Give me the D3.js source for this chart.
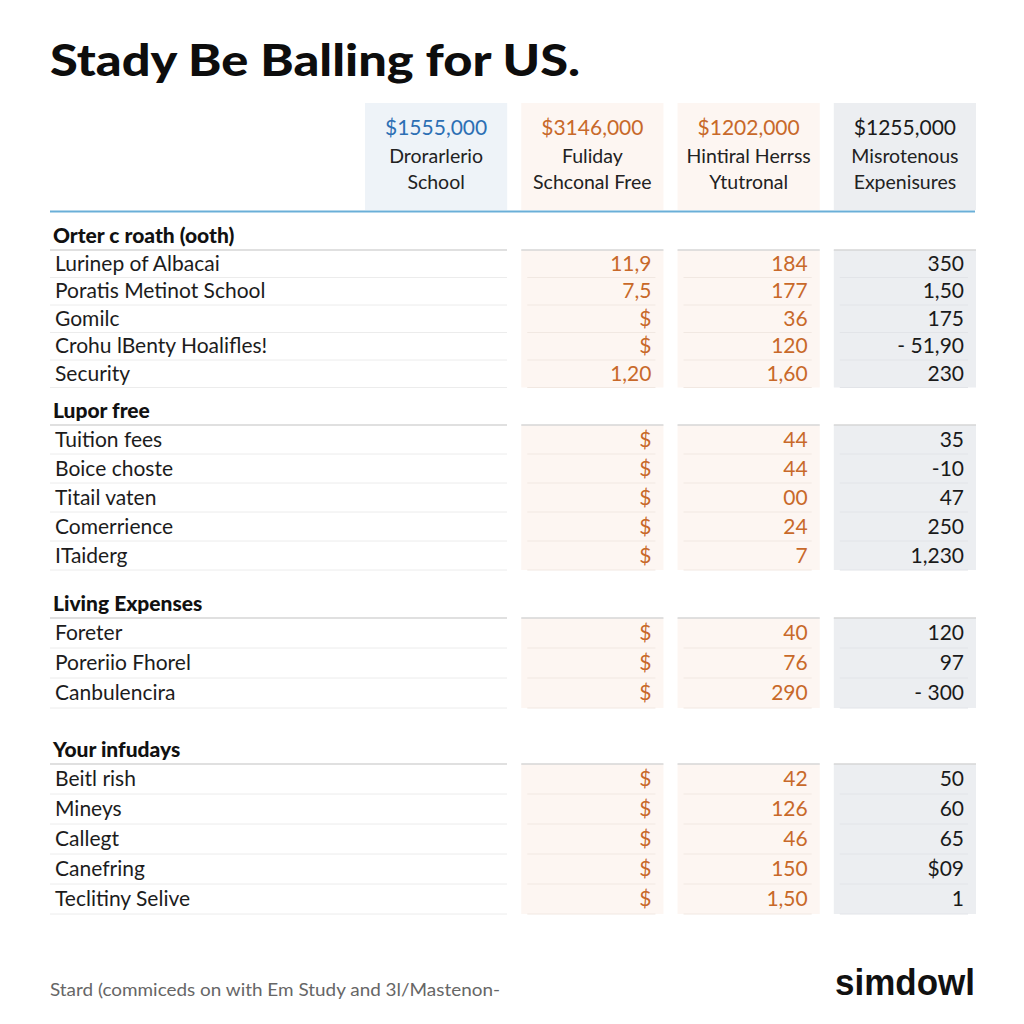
<!DOCTYPE html>
<html><head><meta charset="utf-8">
<script src="https://cdn.jsdelivr.net/npm/d3@7"></script>
<style>
html,body{margin:0;padding:0;background:#fff;}
svg{display:block;}
</style></head>
<body>
<svg id="chart" width="1024" height="1024"></svg>
<script>
// ---------- DATA ----------
const title = "Stady Be Balling for US.";
const columnAmounts = ["$1555,000", "$3146,000", "$1202,000", "$1255,000"];
const columnNames = [["Drorarlerio", "School"], ["Fuliday", "Schconal Free"], ["Hintiral Herrss", "Ytutronal"], ["Misrotenous", "Expenisures"]];
const sectionTitles = ["Orter c roath (ooth)", "Lupor free", "Living Expenses", "Your infudays"];
const rowLabels = [
  ["Lurinep of Albacai", "Poratis Metinot School", "Gomilc", "Crohu lBenty Hoalifles!", "Security"],
  ["Tuition fees", "Boice choste", "Titail vaten", "Comerrience", "ITaiderg"],
  ["Foreter", "Poreriio Fhorel", "Canbulencira"],
  ["Beitl rish", "Mineys", "Callegt", "Canefring", "Teclitiny Selive"]
];
const fulidayValues = [
  ["11,9", "7,5", "$", "$", "1,20"],
  ["$", "$", "$", "$", "$"],
  ["$", "$", "$"],
  ["$", "$", "$", "$", "$"]
];
const hintiralValues = [
  ["184", "177", "36", "120", "1,60"],
  ["44", "44", "00", "24", "7"],
  ["40", "76", "290"],
  ["42", "126", "46", "150", "1,50"]
];
const misroValues = [
  ["350", "1,50", "175", "- 51,90", "230"],
  ["35", "-10", "47", "250", "1,230"],
  ["120", "97", "- 300"],
  ["50", "60", "65", "$09", "1"]
];
const footnote = "Stard (commiceds on with Em Study and 3l/Mastenon-";
const brand = "simdowl";

// ---------- LAYOUT ----------
const svg = d3.select("#chart");
const font = "Lato, 'Open Sans', sans-serif";
const orange = "#c8692a";
const colBg = ["#eef3f8", "#fdf6f2", "#fdf6f2", "#eceef1"];
const colFg = ["#2c6fb4", orange, orange, "#1a1a1a"];

const x = d3.scaleBand().domain(d3.range(4)).range([365, 976]).paddingInner(0.09).paddingOuter(0);
const valueCols = [fulidayValues, hintiralValues, misroValues];

// title
svg.append("text").attr("x", 50).attr("y", 76).text(title)
  .attr("font-family", font).attr("font-weight", 900).attr("font-size", 43)
  .attr("fill", "#0d0d0d").attr("textLength", 530).attr("lengthAdjust", "spacingAndGlyphs");

// header boxes
const hdr = svg.append("g");
columnAmounts.forEach((amt, i) => {
  const g = hdr.append("g");
  g.append("rect").attr("x", x(i)).attr("y", 103).attr("width", x.bandwidth()).attr("height", 107).attr("fill", colBg[i]);
  const cx = x(i) + x.bandwidth() / 2;
  g.append("text").attr("x", cx).attr("y", 135).attr("text-anchor", "middle").text(amt)
    .attr("font-family", font).attr("font-size", 21).attr("fill", colFg[i]);
  columnNames[i].forEach((n, k) => {
    g.append("text").attr("x", cx).attr("y", 163 + k * 26).attr("text-anchor", "middle").text(n)
      .attr("font-family", font).attr("font-size", 19.5).attr("fill", "#222");
  });
});
svg.append("line").attr("x1", 50).attr("x2", 975).attr("y1", 211.5).attr("y2", 211.5)
  .attr("stroke", "#6aafd8").attr("stroke-width", 2);

// sections
const sectionHeaderY = [236, 411, 604, 750];
const rowStep = [27.5, 29, 30, 30];
const labelRight = 507;

sectionTitles.forEach((st, s) => {
  const hy = sectionHeaderY[s];
  const top = hy + 14;
  const n = rowLabels[s].length;
  const y = d3.scaleLinear().domain([0, n]).range([top, top + n * rowStep[s]]);
  const g = svg.append("g");
  for (let c = 0; c < 3; c++) {
    g.append("rect").attr("x", x(c + 1)).attr("y", y(0)).attr("width", x.bandwidth()).attr("height", y(n) - y(0))
      .attr("fill", colBg[c + 1]);
    g.append("line").attr("x1", x(c + 1)).attr("x2", x(c + 1) + x.bandwidth()).attr("y1", y(0)).attr("y2", y(0))
      .attr("stroke", "#d6d6d6").attr("stroke-width", 1.5);
  }
  g.append("text").attr("x", 53).attr("y", hy + 7).text(st)
    .attr("font-family", font).attr("font-weight", 900).attr("font-size", 21).attr("fill", "#111");
  g.append("line").attr("x1", 50).attr("x2", labelRight).attr("y1", y(0)).attr("y2", y(0))
    .attr("stroke", "#d6d6d6").attr("stroke-width", 1.5);
  rowLabels[s].forEach((lab, r) => {
    const cy = (y(r) + y(r + 1)) / 2;
    g.append("text").attr("x", 55).attr("y", cy + 7).text(lab)
      .attr("font-family", font).attr("font-size", 21).attr("fill", "#1c1c1c");
    g.append("line").attr("x1", 50).attr("x2", labelRight).attr("y1", y(r + 1)).attr("y2", y(r + 1))
      .attr("stroke", "#ececec").attr("stroke-width", 1);
    valueCols.forEach((vals, c) => {
      const bx = x(c + 1);
      g.append("line").attr("x1", bx + 6).attr("x2", bx + x.bandwidth() - 8).attr("y1", y(r + 1)).attr("y2", y(r + 1))
        .attr("stroke", c === 2 ? "#e2e4e8" : "#f1e8e2").attr("stroke-width", 1);
      g.append("text").attr("x", bx + x.bandwidth() - 12).attr("y", cy + 7).attr("text-anchor", "end")
        .text(vals[s][r]).attr("font-family", font).attr("font-size", 21).attr("fill", colFg[c + 1]);
    });
  });
});

// footer
svg.append("text").attr("x", 50).attr("y", 996).text(footnote)
  .attr("font-family", font).attr("font-size", 18).attr("fill", "#666")
  .attr("textLength", 450).attr("lengthAdjust", "spacingAndGlyphs");
svg.append("text").attr("x", 975).attr("y", 995).attr("text-anchor", "end").text(brand)
  .attr("font-family", "'Liberation Sans Narrow', 'Liberation Sans', Arial, sans-serif").attr("font-weight", 700)
  .attr("font-size", 37).attr("fill", "#111")
  .attr("textLength", 140).attr("lengthAdjust", "spacingAndGlyphs");
</script>
</body></html>
